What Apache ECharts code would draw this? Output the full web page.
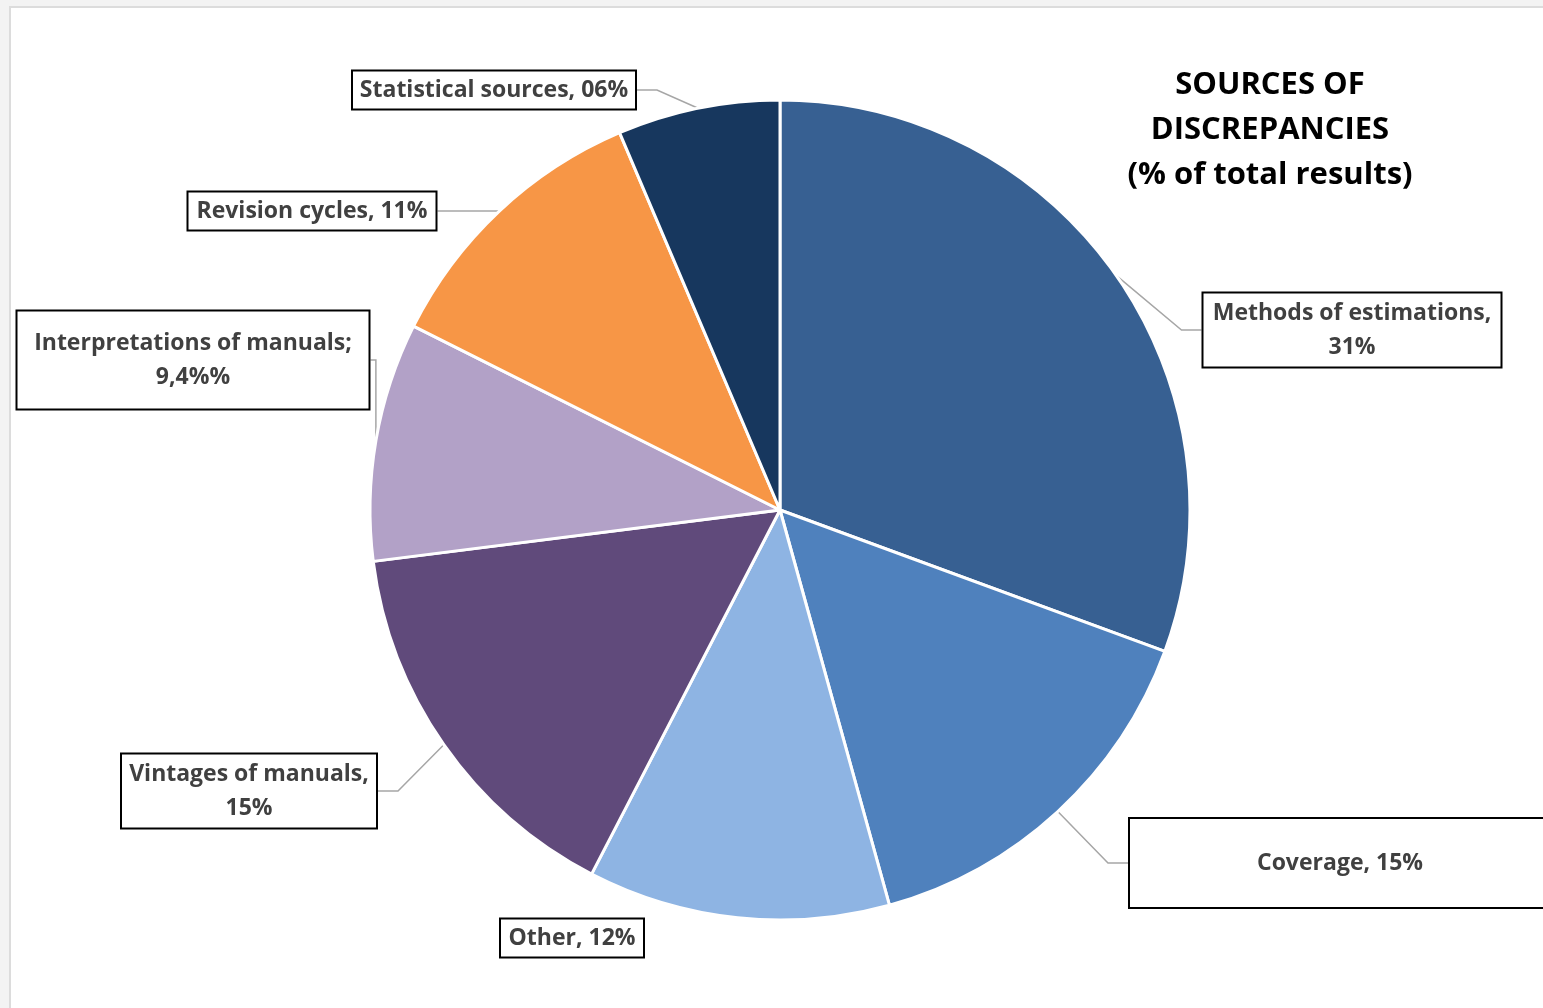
<!DOCTYPE html>
<html>
<head>
<meta charset="utf-8">
<script src="https://cdn.jsdelivr.net/npm/echarts@6/dist/echarts.min.js"></script>
<style>
  html, body { margin: 0; padding: 0; background: #f3f3f3; overflow: hidden; }
  #panel {
    position: absolute; left: 9px; top: 6px; right: 0; bottom: 0;
    background: #fff; border-left: 2px solid #dcdcdc; border-top: 2px solid #dcdcdc;
  }
  #chart { position: absolute; left: 0; top: 0; width: 1543px; height: 1008px; }
</style>
</head>
<body>
<div id="panel"></div>
<div id="chart"></div>
<script>
// slices, clockwise from 12 o'clock
var names = [
  "Methods of estimations",
  "Coverage",
  "Other",
  "Vintages of manuals",
  "Interpretations of manuals",
  "Revision cycles",
  "Statistical sources"
];
// slice sizes
var values = [30.6, 15.1, 11.9, 15.4, 9.4, 11.2, 6.4];
// label text as printed on the chart
var labelTexts = [
  "Methods of estimations,\n31%",
  "Coverage, 15%",
  "Other, 12%",
  "Vintages of manuals,\n15%",
  "Interpretations of manuals;\n9,4%%",
  "Revision cycles, 11%",
  "Statistical sources, 06%"
];
var colors = ["#376092", "#4f81bd", "#8eb4e3", "#604a7b", "#b2a1c7", "#f79646", "#17375e"];

// label boxes: center x, center y, width, height
var boxes = [
  [1352, 330, 301, 77],
  [1350, 863, 444, 92],
  [572, 938, 146, 41],
  [249, 791, 258, 77],
  [193, 360, 355, 101],
  [312, 211, 251, 41],
  [494, 90, 286, 41]
];

var chart = echarts.init(document.getElementById("chart"));

var data = names.map(function (n, i) {
  var b = boxes[i];
  return {
    name: n,
    value: values[i],
    itemStyle: { color: colors[i] },
    label: { width: b[2] - 4, height: b[3] - 4 },
    labelLine: { show: i !== 2 }
  };
});
// keep the coverage text where the original sits inside its wide box
data[1].label.padding = [0, 20, 0, 0];
data[1].label.width = 420;

chart.setOption({
  animation: false,
  title: {
    text: "SOURCES OF\nDISCREPANCIES\n(% of total results)",
    left: 1265,
    top: 58,
    textAlign: "center",
    textStyle: {
      fontFamily: "Open Sans",
      fontWeight: "bold",
      fontSize: 31,
      lineHeight: 45,
      color: "#000"
    }
  },
  series: [
    {
      type: "pie",
      center: [780, 510],
      radius: 410,
      startAngle: 90,
      clockwise: true,
      data: data,
      itemStyle: { borderColor: "#fff", borderWidth: 3 },
      label: {
        show: true,
        formatter: function (p) { return labelTexts[p.dataIndex]; },
        fontFamily: "Open Sans",
        fontWeight: "bold",
        fontSize: 23,
        lineHeight: 34,
        color: "#404040",
        backgroundColor: "#fff",
        borderColor: "#000",
        borderWidth: 2,
        align: "center",
        verticalAlign: "middle"
      },
      labelLine: {
        show: true,
        length: 20,
        length2: 20,
        lineStyle: { color: "#a6a6a6", width: 1.5 }
      },
      labelLayout: function (p) {
        var b = boxes[p.dataIndex];
        return { x: b[0], y: b[1], align: "center", verticalAlign: "middle" };
      }
    }
  ]
});
</script>
</body>
</html>
